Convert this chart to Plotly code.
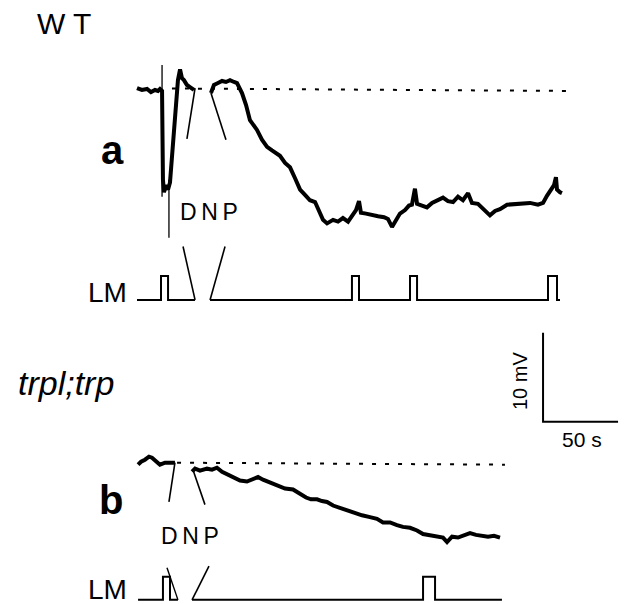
import plotly.graph_objects as go

# ---------------- data (time in s, voltage in mV relative to each panel's resting level) ----------------
# Panel a (WT) – trace before DNP break
a1_t = [0, 3.3, 6.7, 9.3, 12.0, 14.0, 15.3, 16.7, 17.3, 18.0, 19.3, 20.7, 22.0, 24.0, 26.0, 27.3,
        28.7, 30.0, 31.3, 33.3, 35.3, 38.0]
a1_v = [0.11, -0.11, 0, -0.34, -0.11, -0.22, 0, -0.22, -10.2, -11.6, -10.8, -11.3, -10.5, -5.7, -1.2, 1.0,
        2.2, 1.2, 1.0, 0.45, 0.22, -0.11]
# Panel a – trace after DNP break
a2_t = [49.3, 51.3, 54.0, 56.7, 59.3, 62.0, 64.7, 66.7, 70.0, 72.7, 75.3, 78.0, 80.0, 83.3, 86.7, 90.0,
        92.7, 95.3, 98.7, 102.0, 105.3, 108.7, 112.0, 115.3, 118.7, 122.0, 124.0, 126.7, 130.7, 134.0,
        137.3, 140.7, 143.3, 146.0, 148.0, 149.3, 152.7, 156.7, 160.7, 164.7, 167.3, 170.0, 172.7, 175.3,
        178.7, 181.3, 183.3, 185.3, 186.7, 190.0, 193.3, 196.7, 200.7, 204.0, 207.3, 210.7, 214.0, 217.3,
        220.7, 223.3, 227.3, 231.3, 235.3, 238.7, 242.0, 246.7, 252.0, 256.7, 262.0, 267.3, 270.7, 273.3,
        276.0, 278.0, 279.3, 280.0, 282.0, 283.3]
a2_v = [-0.45, 0.45, 0.67, 0.9, 0.79, 1.0, 0.79, 0.67, -0.45, -1.8, -3.5, -4.2, -4.6, -5.7, -6.5, -6.9,
        -7.2, -7.5, -8.3, -8.8, -10.0, -11.3, -11.9, -12.5, -12.7, -13.8, -14.7, -15.1, -14.7, -14.9,
        -14.5, -14.9, -14.3, -13.6, -12.6, -13.9, -14.0, -14.2, -14.3, -14.4, -14.6, -15.5, -14.7, -14.0,
        -13.6, -13.1, -13.0, -11.2, -12.9, -13.1, -13.3, -12.8, -12.4, -12.2, -12.6, -12.7, -12.1, -12.5,
        -11.7, -12.8, -12.9, -13.5, -14.2, -13.7, -13.5, -13.0, -12.9, -12.8, -12.8, -13.0, -12.8, -12.0,
        -11.3, -10.8, -9.9, -11.3, -11.6, -11.7]
a_rest_t = [23.3, 287.3]
a_rest_v = [0.06, -0.22]
a_artifact_t = [16.7, 16.7]
a_artifact_v = [2.7, -12.1]
a_pointer_t = [21.3, 21.3]
a_pointer_v = [-10.2, -16.7]
a_break1_t = [38.7, 33.3]
a_break1_v = [0.11, -5.6]
a_break2_t = [49.3, 59.3]
a_break2_v = [-0.45, -5.7]

# Panel a – light marker (LM) segments and pulses (s)
a_lm_segments = [(0.0, 38.7), (48.7, 282.0)]
a_lm_pulses = [(16.0, 20.7), (143.3, 148.0), (182.0, 186.7), (274.0, 280.0)]
a_lm_break1_t = [38.7, 30.7]
a_lm_break2_t = [48.7, 58.7]

# Panel b (trpl;trp)
b1_t = [0.7, 2.7, 5.3, 8.0, 10.0, 12.7, 15.3, 18.7, 22.0, 25.3]
b1_v = [-0.11, 0.22, 0.45, 0.79, 0.67, 0.22, -0.11, 0.11, 0.11, 0.11]
b2_t = [36.7, 38.7, 42.0, 46.7, 50.0, 53.3, 56.7, 60.0, 64.0, 68.7, 73.3, 77.3, 80.7, 84.0, 88.7, 93.3,
        98.7, 104.0, 108.7, 112.7, 116.0, 120.0, 123.3, 126.7, 130.7, 134.0, 138.7, 142.0, 146.0, 150.0,
        155.3, 160.0, 164.0, 168.7, 173.3, 177.3, 182.0, 186.7, 190.7, 195.3, 200.0, 204.0, 206.7, 210.0,
        214.0, 218.0, 222.0, 226.0, 230.0, 234.0, 238.0, 242.0]
b2_v = [-0.9, -0.56, -0.79, -0.56, -0.67, -0.45, -0.9, -1.2, -1.6, -1.9, -2.0, -1.7, -1.5, -1.8, -2.1, -2.5,
        -2.8, -2.9, -3.4, -3.8, -4.0, -4.0, -4.2, -4.3, -4.7, -4.9, -5.2, -5.4, -5.6, -5.8,
        -6.0, -6.2, -6.6, -6.6, -6.9, -7.1, -7.2, -7.5, -7.9, -8.0, -8.2, -8.3, -8.8, -8.2,
        -8.3, -8.1, -7.8, -8.0, -8.1, -8.2, -8.1, -8.3]
b_rest_t = [26.7, 245.3]
b_rest_v = [0.11, -0.11]
b_break1_t = [25.3, 21.3]
b_break1_v = [0.11, -4.3]
b_break2_t = [37.3, 45.3]
b_break2_v = [-0.67, -4.6]
b_lm_segments = [(0.7, 27.3), (36.7, 243.3)]
b_lm_pulses = [(17.3, 22.0), (190.7, 198.7)]
b_lm_break1_t = [27.3, 20.0]
b_lm_break2_t = [36.7, 48.0]

# Scale bar
scale_t = 50   # s
scale_v = 10   # mV

# ---------------- layout constants ----------------
W, H = 626, 604
PX_PER_S = 1.5
PX_PER_MV = 8.9
X0_PX = 137          # pixel where t = 0
Y0_PX = 89           # pixel of panel a resting level
X_RANGE = [-X0_PX / PX_PER_S, (W - X0_PX) / PX_PER_S]
Y_RANGE = [(Y0_PX - H) / PX_PER_MV, Y0_PX / PX_PER_MV]

B_OFF = -42.1        # panel b offset (plot units)
A_LM_BASE = -23.7
A_LM_H = 2.7
A_LM_BREAK_TOP = -17.7
B_LM_BASE = B_OFF - 15.3
B_LM_H = 2.6
B_LM_BREAK1_TOP = B_OFF - 11.7
B_LM_BREAK2_TOP = B_OFF - 11.5
SCALE_T0 = 270.7
SCALE_V0 = -37.4

BLACK = "#000000"
FONT = "Liberation Sans, Arial, sans-serif"
TRACE_W = 4.0

fig = go.Figure()


def line(x, y, width, dash=None, off=0.0):
    fig.add_trace(go.Scatter(
        x=x, y=[v + off for v in y], mode="lines",
        line=dict(color=BLACK, width=width, dash=dash),
        hoverinfo="skip", showlegend=False))


def lm_trace(segments, pulses, base, height):
    for (s, e) in segments:
        xs, ys = [s], [base]
        for (on, off) in pulses:
            if s <= on and off <= e:
                xs += [on, on, off, off]
                ys += [base, base + height, base + height, base]
        xs.append(e)
        ys.append(base)
        line(xs, ys, 2.0)


# panel a
line(a1_t, a1_v, TRACE_W)
line(a2_t, a2_v, TRACE_W)
line(a_rest_t, a_rest_v, 2.0, dash="4px,9px")
line(a_artifact_t, a_artifact_v, 1.3)
line(a_pointer_t, a_pointer_v, 1.3)
line(a_break1_t, a_break1_v, 1.6)
line(a_break2_t, a_break2_v, 1.6)
lm_trace(a_lm_segments, a_lm_pulses, A_LM_BASE, A_LM_H)
line(a_lm_break1_t, [A_LM_BASE, A_LM_BREAK_TOP], 1.6)
line(a_lm_break2_t, [A_LM_BASE, A_LM_BREAK_TOP], 1.6)

# panel b
line(b1_t, b1_v, TRACE_W, off=B_OFF)
line(b2_t, b2_v, TRACE_W, off=B_OFF)
line(b_rest_t, b_rest_v, 2.0, dash="4px,9px", off=B_OFF)
line(b_break1_t, b_break1_v, 1.6, off=B_OFF)
line(b_break2_t, b_break2_v, 1.6, off=B_OFF)
lm_trace(b_lm_segments, b_lm_pulses, B_LM_BASE, B_LM_H)
line(b_lm_break1_t, [B_LM_BASE, B_LM_BREAK1_TOP], 1.4)
line(b_lm_break2_t, [B_LM_BASE, B_LM_BREAK2_TOP], 1.6)

# scale bar
line([SCALE_T0, SCALE_T0, SCALE_T0 + scale_t],
     [SCALE_V0 + scale_v, SCALE_V0, SCALE_V0], 2.0)


def text_at(px, py, txt, size, bold=False, italic=False, angle=0):
    t = txt
    if bold:
        t = "<b>" + t + "</b>"
    if italic:
        t = "<i>" + t + "</i>"
    fig.add_annotation(x=px / W, y=1 - py / H, xref="paper", yref="paper",
                       text=t, showarrow=False, textangle=angle,
                       xanchor="center", yanchor="middle",
                       font=dict(family=FONT, size=size, color=BLACK))


TS = "\u2009"  # thin space for letter spacing
text_at(64, 23, "W T", 30)
text_at(112, 150, "a", 40, bold=True)
text_at(209, 212, TS.join("DNP"), 23)
text_at(107, 292, "LM", 28)
text_at(66, 383, "trpl;trp", 34, italic=True)
text_at(520, 381, "10 mV", 20, angle=-90)
text_at(582, 440, "50 s", 21)
text_at(111, 500, "b", 40, bold=True)
text_at(190, 536, TS.join("DNP"), 23)
text_at(107, 589, "LM", 28)

fig.update_layout(
    width=W, height=H, autosize=False,
    margin=dict(l=0, r=0, t=0, b=0),
    paper_bgcolor="white", plot_bgcolor="white",
    xaxis=dict(visible=False, range=X_RANGE, fixedrange=True),
    yaxis=dict(visible=False, range=Y_RANGE, fixedrange=True),
)

fig.write_html("out.html")
